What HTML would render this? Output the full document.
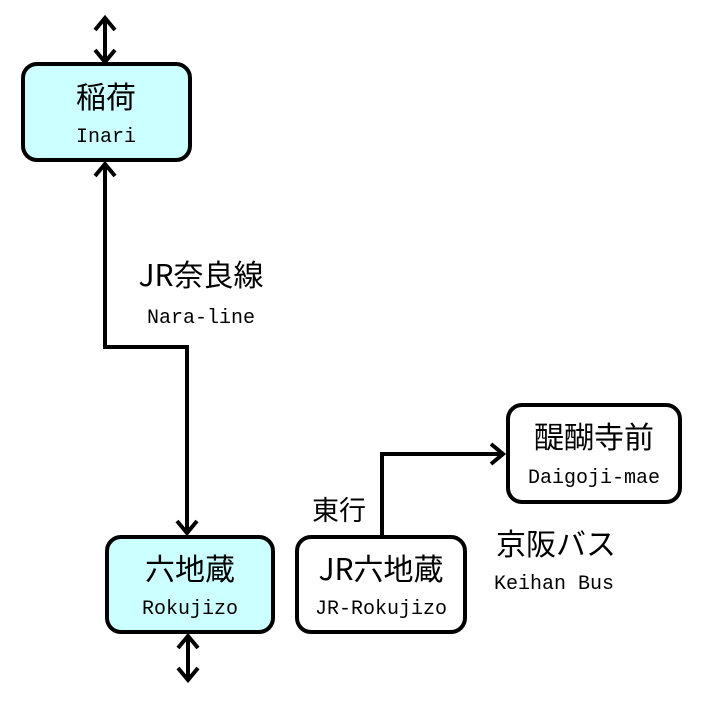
<!DOCTYPE html>
<html><head><meta charset="utf-8"><style>
body{margin:0;background:#fff;width:703px;height:700px;overflow:hidden}
svg text{font-family:"Liberation Mono","Noto Sans CJK JP",monospace;fill:#000}
.j{font-family:"Noto Sans CJK JP","WenQuanYi Zen Hei",sans-serif}
</style></head><body>
<svg width="703" height="700" viewBox="0 0 703 700" xmlns="http://www.w3.org/2000/svg">
<g fill="none" stroke="#000" stroke-width="4">
<rect x="23" y="64" width="167" height="96" rx="14" fill="#ccffff"/>
<rect x="107" y="537" width="166" height="95" rx="14" fill="#ccffff"/>
<rect x="297" y="537" width="168" height="95" rx="14" fill="#fff"/>
<rect x="508" y="405" width="172" height="97" rx="14" fill="#fff"/>
<path d="M105 20V60M95 30L105 18L115 30M95 50L105 62L115 50"/>
<path d="M188 638V678M178 648L188 636L198 648M178 668L188 680L198 668"/>
<path d="M105 166V347H187V533M95 176L105 164L115 176M177 521L187 533L197 521"/>
<path d="M382 535V454H503M491 444L503 454L491 464"/>
</g>
<g font-size="30" text-anchor="middle" class="j">
<text class="j" x="106" y="108">稲荷</text>
<text class="j" x="190" y="580">六地蔵</text>
<text class="j" x="381" y="580">JR六地蔵</text>
<text class="j" x="594" y="448">醍醐寺前</text>
<text class="j" x="201" y="286">JR奈良線</text>
<text class="j" x="556" y="555">京阪バス</text>
<text class="j" x="339" y="520" font-size="27">東行</text>
</g>
<g font-size="20" text-anchor="middle">
<text x="106" y="142">Inari</text>
<text x="190" y="614">Rokujizo</text>
<text x="381" y="614">JR-Rokujizo</text>
<text x="594" y="483">Daigoji-mae</text>
<text x="201" y="323">Nara-line</text>
<text x="554" y="589">Keihan Bus</text>
</g>
</svg>
</body></html>
